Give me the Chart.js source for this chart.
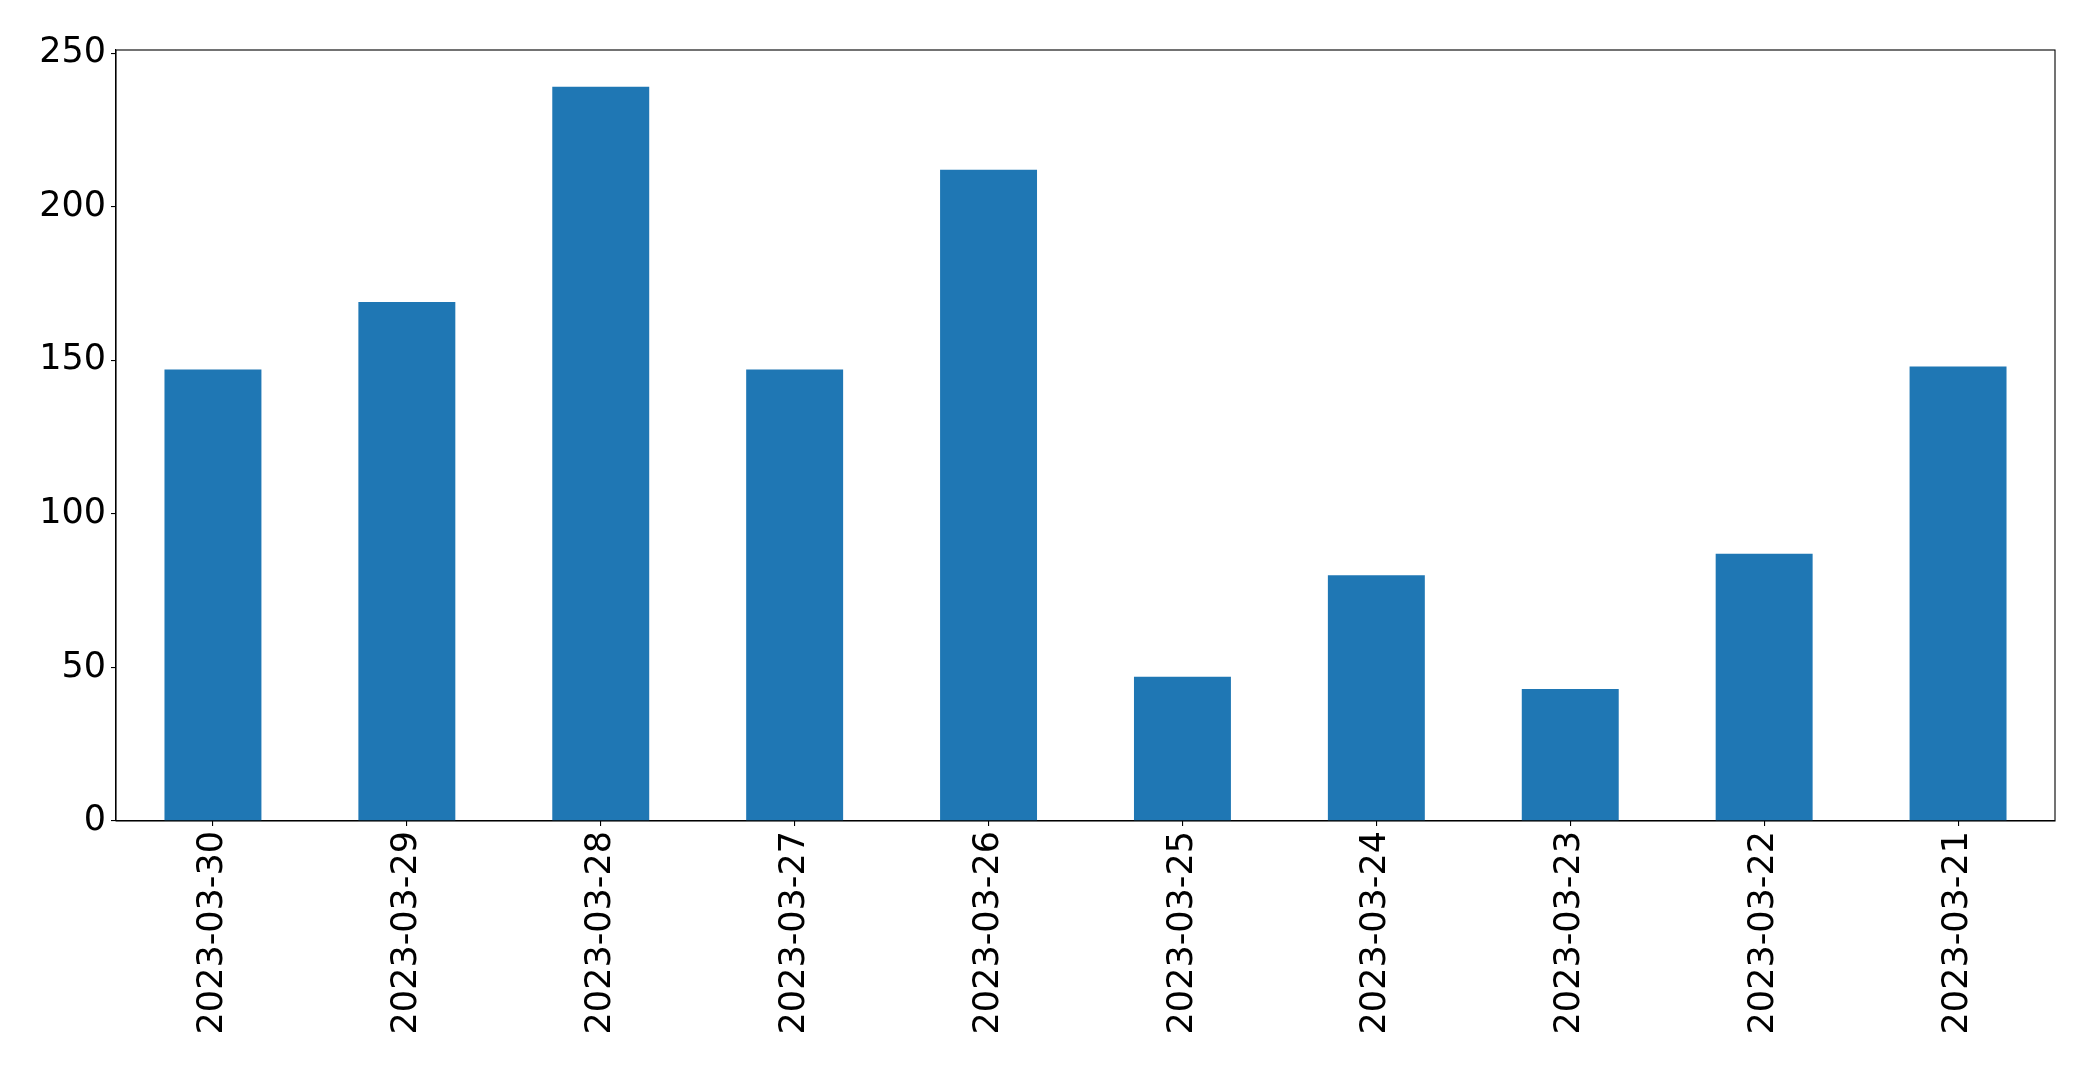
<!DOCTYPE html>
<html>
<head>
<meta charset="utf-8">
<script src="https://cdn.jsdelivr.net/npm/chart.js@4"></script>
<style>
  html, body { margin: 0; padding: 0; background: #fff; }
  canvas { display: block; }
</style>
</head>
<body>
<canvas id="barChart" width="2093" height="1072"></canvas>
<script>
// dates on the x axis, newest first as in the picture
const dates = ['2023-03-30', '2023-03-29', '2023-03-28', '2023-03-27', '2023-03-26',
               '2023-03-25', '2023-03-24', '2023-03-23', '2023-03-22', '2023-03-21'];
const counts = [147, 169, 239, 147, 212, 47, 80, 43, 87, 148];
const yTicks = [0, 50, 100, 150, 200, 250];
const yMax = 251;

// top and right spines, matplotlib style
const frame = {
    id: 'frame',
    afterDraw(chart) {
        const a = chart.chartArea;
        const c = chart.ctx;
        c.save();
        c.strokeStyle = '#000';
        c.lineWidth = 1.1;
        c.strokeRect(a.left, a.top, a.right - a.left, a.bottom - a.top);
        c.restore();
    }
};

Chart.defaults.font.family = '"DejaVu Sans", sans-serif';
Chart.defaults.font.size = 35;
Chart.defaults.color = '#000';

const ctx = document.getElementById('barChart').getContext('2d');
const barChart = new Chart(ctx, {
    type: 'bar',
    data: {
        labels: dates,
        datasets: [{
            data: counts,
            backgroundColor: '#1f77b4',
            borderWidth: 0,
            barPercentage: 0.5,
            categoryPercentage: 1.0
        }]
    },
    options: {
        responsive: false,
        animation: false,
        layout: {
            padding: { left: 0, top: 50, right: 38, bottom: 0 }
        },
        plugins: {
            legend: { display: false },
            tooltip: { enabled: false }
        },
        scales: {
            x: {
                offset: true,
                grid: {
                    offset: false,
                    drawOnChartArea: false,
                    drawTicks: true,
                    tickLength: 5,
                    color: '#000',
                    lineWidth: 1.1
                },
                border: { display: true, color: '#000', width: 1.1 },
                ticks: {
                    minRotation: 90,
                    maxRotation: 90,
                    padding: 5,
                    autoSkip: false
                },
                afterFit(scale) { scale.height = 251; }
            },
            y: {
                min: 0,
                max: yMax,
                bounds: 'data',
                grid: {
                    drawOnChartArea: false,
                    drawTicks: true,
                    tickLength: 5,
                    color: '#000',
                    lineWidth: 1.1
                },
                border: { display: true, color: '#000', width: 1.1 },
                ticks: {
                    includeBounds: false,
                    padding: 5
                },
                afterBuildTicks(scale) {
                    scale.ticks = yTicks.map(v => ({ value: v }));
                },
                afterFit(scale) { scale.width = 116; }
            }
        }
    },
    plugins: [frame]
});
</script>
</body>
</html>
